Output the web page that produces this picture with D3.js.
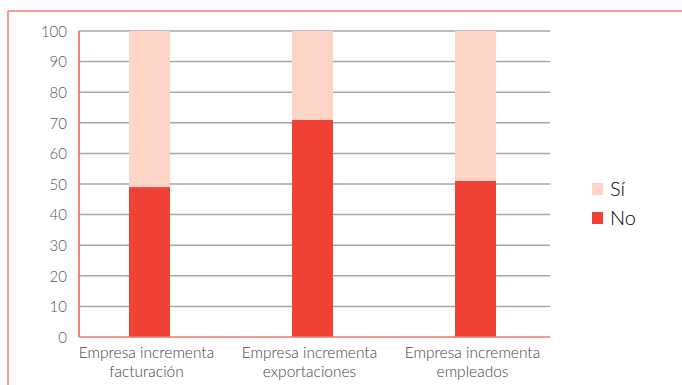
<!DOCTYPE html>
<html>
<head>
<meta charset="utf-8">
<script src="https://cdn.jsdelivr.net/npm/d3@7"></script>
<style>
  body { margin: 0; background: #fff; }
  svg { display: block; }
  text { font-family: 'Lato', 'Open Sans', sans-serif; font-weight: 300; }
  .tick text { fill: #555; font-size: 15px; }
  .cat { fill: #444; font-size: 15.5px; }
  .legend text { fill: #000; font-size: 20px; font-weight: 300; }
</style>
</head>
<body>
<div id="chart"></div>
<script>
// Chart data
const categories = [
  ['Empresa incrementa', 'facturación'],
  ['Empresa incrementa', 'exportaciones'],
  ['Empresa incrementa', 'empleados']
]
const noValues = [49, 71, 51]
const siValues = [51, 29, 49]
const yTicks = [0, 10, 20, 30, 40, 50, 60, 70, 80, 90, 100]

const width = 682, height = 385
const plot = { left: 79, right: 550, top: 31, bottom: 337 }
const colors = { si: '#FCD5C7', no: '#EF4136' }

let svg = d3.select('#chart').append('svg')
  .attr('width', width)
  .attr('height', height)

// Outer frame (top + left only)
svg.append('line')
  .attr('x1', 8).attr('x2', width).attr('y1', 11).attr('y2', 11)
  .style('stroke', '#F39A96').style('stroke-width', 2)
svg.append('line')
  .attr('x1', 8).attr('x2', 8).attr('y1', 11).attr('y2', height)
  .style('stroke', '#F39A96').style('stroke-width', 2)

let x = d3.scaleBand()
  .domain(d3.range(categories.length))
  .range([68, 557])
  .paddingInner(0.75)
  .paddingOuter(0.375)

let y = d3.scaleLinear()
  .domain([0, 100])
  .range([plot.bottom, plot.top])

// Gridlines
svg.append('g')
  .selectAll('line')
  .data(yTicks.filter(d => d > 0))
  .join('line')
  .attr('x1', plot.left)
  .attr('x2', plot.right)
  .attr('y1', d => y(d))
  .attr('y2', d => y(d))
  .style('stroke', '#A6A6A6')
  .style('stroke-width', 1.5)

// Y axis labels
let yAxis = d3.axisLeft(y).tickValues(yTicks).tickSize(0).tickPadding(12)
let gy = svg.append('g')
  .attr('transform', 'translate(' + plot.left + ',0)')
  .call(yAxis)
gy.select('.domain').remove()
gy.selectAll('text').attr('dy', '0.35em')

// Bars
let bw = 41
let groups = svg.append('g')
groups.selectAll('rect.no')
  .data(noValues)
  .join('rect')
  .attr('class', 'no')
  .attr('x', (d, i) => x(i) + x.bandwidth() / 2 - bw / 2)
  .attr('y', d => y(d))
  .attr('width', bw)
  .attr('height', d => y(0) - y(d))
  .style('fill', colors.no)
groups.selectAll('rect.si')
  .data(siValues)
  .join('rect')
  .attr('class', 'si')
  .attr('x', (d, i) => x(i) + x.bandwidth() / 2 - bw / 2)
  .attr('y', (d, i) => y(noValues[i] + d))
  .attr('width', bw)
  .attr('height', d => y(0) - y(d))
  .style('fill', colors.si)

// Axis lines
svg.append('line')
  .attr('x1', plot.left).attr('x2', plot.left)
  .attr('y1', plot.top).attr('y2', plot.bottom)
  .style('stroke', '#EF5A50').style('stroke-width', 1.5)
svg.append('line')
  .attr('x1', plot.left).attr('x2', plot.right)
  .attr('y1', plot.bottom).attr('y2', plot.bottom)
  .style('stroke', '#F07468').style('stroke-width', 1.5)

// Category labels, one text per line
let cats = svg.append('g')
categories.forEach((lines, i) => {
  lines.forEach((l, j) => {
    cats.append('text')
      .attr('class', 'cat')
      .attr('text-anchor', 'middle')
      .attr('x', x(i) + x.bandwidth() / 2 - 3)
      .attr('y', 358 + j * 18.5)
      .text(l)
  })
})

// Legend
let legend = svg.append('g').attr('class', 'legend')
  .attr('transform', 'translate(592, 183)')
let items = [['Sí', colors.si], ['No', colors.no]]
items.forEach((it, i) => {
  legend.append('rect')
    .attr('x', 0).attr('y', i * 29)
    .attr('width', 11).attr('height', 12)
    .style('fill', it[1])
  legend.append('text')
    .attr('x', 18).attr('y', i * 29 + 13)
    .text(it[0])
})
</script>
</body>
</html>
